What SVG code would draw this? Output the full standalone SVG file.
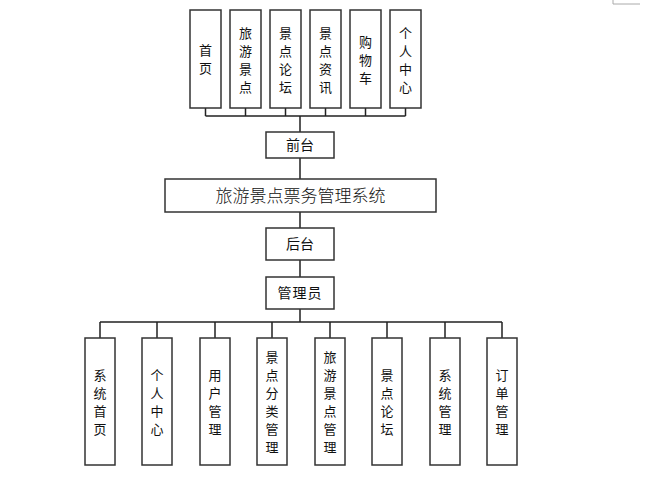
<svg xmlns="http://www.w3.org/2000/svg" width="657" height="478" viewBox="0 0 657 478">
<style>
.box{fill:#fff;stroke:#333;stroke-width:1.5}
.ln{stroke:#222;stroke-width:1.5;fill:none}
text{font-family:"Noto Sans CJK SC","Noto Sans",sans-serif;font-size:14px;fill:#111;text-anchor:middle}
.c{font-size:13px}
.t{font-size:17px;font-weight:300}
</style>
<rect width="657" height="478" fill="#fff"/>
<path d="M613,0V4H640" stroke="#aaa" stroke-width="1" fill="none"/>
<g id="connectors">
<path class="ln" d="M205.5,108V116M245.5,108V116M285.5,108V116M325.5,108V116M365.5,108V116M405.5,108V116M205.5,116H405.5M300,116V132"/>
<path class="ln" d="M300,158V179M300,212V228M300,260V277M300,309V322"/>
<path class="ln" d="M100,322H502M100,322V338M157,322V338M215,322V338M272,322V338M330,322V338M387,322V338M445,322V338M502,322V338"/>
</g>
<g id="n_home"><rect class="box" x="190" y="10" width="31" height="98"/><text class="c" x="205.5" y="55">首</text><text class="c" x="205.5" y="73">页</text></g>
<g id="n_travel"><rect class="box" x="230" y="10" width="31" height="98"/><text class="c" x="245.5" y="38">旅</text><text class="c" x="245.5" y="56">游</text><text class="c" x="245.5" y="74">景</text><text class="c" x="245.5" y="92">点</text></g>
<g id="n_forum"><rect class="box" x="270" y="10" width="31" height="98"/><text class="c" x="285.5" y="38">景</text><text class="c" x="285.5" y="56">点</text><text class="c" x="285.5" y="74">论</text><text class="c" x="285.5" y="92">坛</text></g>
<g id="n_news"><rect class="box" x="310" y="10" width="31" height="98"/><text class="c" x="325.5" y="38">景</text><text class="c" x="325.5" y="56">点</text><text class="c" x="325.5" y="74">资</text><text class="c" x="325.5" y="92">讯</text></g>
<g id="n_cart"><rect class="box" x="350" y="10" width="31" height="98"/><text class="c" x="365.5" y="47">购</text><text class="c" x="365.5" y="65">物</text><text class="c" x="365.5" y="83">车</text></g>
<g id="n_user"><rect class="box" x="390" y="10" width="31" height="98"/><text class="c" x="405.5" y="38">个</text><text class="c" x="405.5" y="56">人</text><text class="c" x="405.5" y="74">中</text><text class="c" x="405.5" y="92">心</text></g>
<g id="n_front"><rect class="box" x="266" y="132" width="68" height="26"/><text x="300" y="150">前台</text></g>
<g id="n_system"><rect class="box" x="165" y="179" width="271" height="33"/><text class="t" x="300.5" y="201.5">旅游景点票务管理系统</text></g>
<g id="n_back"><rect class="box" x="266" y="228" width="68" height="32"/><text x="300" y="249">后台</text></g>
<g id="n_admin"><rect class="box" x="266" y="277" width="68" height="32"/><text x="300" y="298" letter-spacing="1">管理员</text></g>
<g id="b_1"><rect class="box" x="85" y="338" width="30" height="127"/><text class="c" x="100" y="380">系</text><text class="c" x="100" y="398">统</text><text class="c" x="100" y="416">首</text><text class="c" x="100" y="434">页</text></g>
<g id="b_2"><rect class="box" x="142" y="338" width="30" height="127"/><text class="c" x="157" y="380">个</text><text class="c" x="157" y="398">人</text><text class="c" x="157" y="416">中</text><text class="c" x="157" y="434">心</text></g>
<g id="b_3"><rect class="box" x="200" y="338" width="30" height="127"/><text class="c" x="215" y="380">用</text><text class="c" x="215" y="398">户</text><text class="c" x="215" y="416">管</text><text class="c" x="215" y="434">理</text></g>
<g id="b_4"><rect class="box" x="257" y="338" width="30" height="127"/><text class="c" x="272" y="362">景</text><text class="c" x="272" y="380">点</text><text class="c" x="272" y="398">分</text><text class="c" x="272" y="416">类</text><text class="c" x="272" y="434">管</text><text class="c" x="272" y="452">理</text></g>
<g id="b_5"><rect class="box" x="315" y="338" width="30" height="127"/><text class="c" x="330" y="362">旅</text><text class="c" x="330" y="380">游</text><text class="c" x="330" y="398">景</text><text class="c" x="330" y="416">点</text><text class="c" x="330" y="434">管</text><text class="c" x="330" y="452">理</text></g>
<g id="b_6"><rect class="box" x="372" y="338" width="30" height="127"/><text class="c" x="387" y="380">景</text><text class="c" x="387" y="398">点</text><text class="c" x="387" y="416">论</text><text class="c" x="387" y="434">坛</text></g>
<g id="b_7"><rect class="box" x="430" y="338" width="30" height="127"/><text class="c" x="445" y="380">系</text><text class="c" x="445" y="398">统</text><text class="c" x="445" y="416">管</text><text class="c" x="445" y="434">理</text></g>
<g id="b_8"><rect class="box" x="487" y="338" width="30" height="127"/><text class="c" x="502" y="380">订</text><text class="c" x="502" y="398">单</text><text class="c" x="502" y="416">管</text><text class="c" x="502" y="434">理</text></g>
</svg>
